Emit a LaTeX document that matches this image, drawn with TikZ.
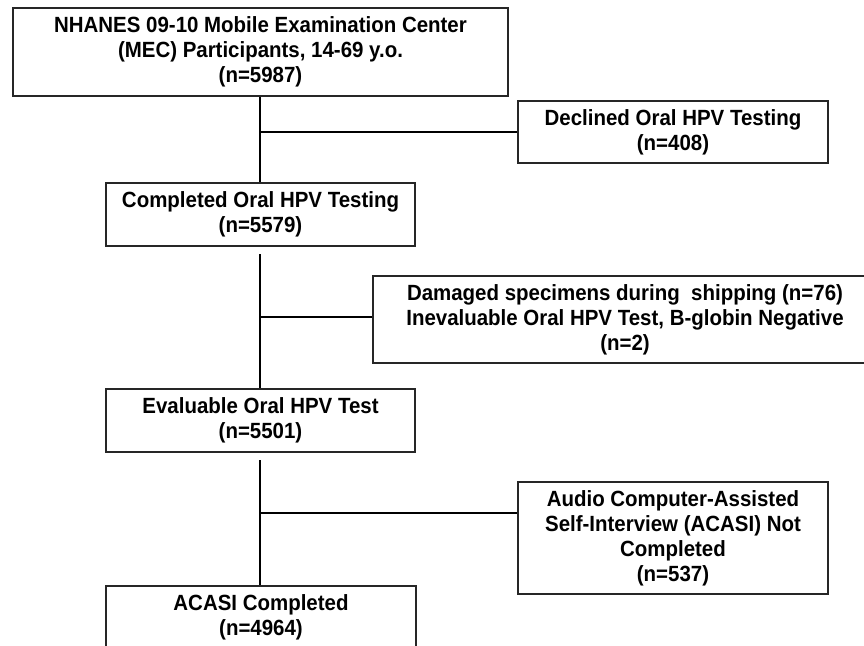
\documentclass[tikz,border=0pt]{standalone}
\usepackage{fontspec}
\setmainfont[FakeStretch=0.93]{Liberation Sans}
\begin{document}
\begin{tikzpicture}[x=1pt,y=-1pt,
  box/.style={draw=black!85, line width=1.3pt, fill=white, inner sep=0pt, align=center,
    font=\bfseries\fontsize{22}{25}\selectfont},
  conn/.style={draw=black, line width=2.4pt}]
\useasboundingbox (0,0) rectangle (864,645);
\clip (0,0) rectangle (864,645);
\fill[white] (0,0) rectangle (864,645);
\node[box, minimum width=495, minimum height=88] (mec) at (260.5,52)
  {NHANES 09-10 Mobile Examination Center\\(MEC) Participants, 14-69 y.o.\\(n=5987)};
\node[box, minimum width=310, minimum height=62] (decl) at (673,132)
  {Declined Oral HPV Testing\\(n=408)};
\node[box, minimum width=309, minimum height=63] (comp) at (260.5,214.5)
  {Completed Oral HPV Testing\\(n=5579)};
\node[box, minimum width=504, minimum height=87] (dam) at (625,319.5)
  {Damaged specimens during\ \ shipping (n=76)\\Inevaluable Oral HPV Test, B-globin Negative\\(n=2)};
\node[box, minimum width=309, minimum height=63] (eval) at (260.5,420.5)
  {Evaluable Oral HPV Test\\(n=5501)};
\node[box, minimum width=310, minimum height=112] (audio) at (673,538)
  {Audio Computer-Assisted\\Self-Interview (ACASI) Not\\Completed\\(n=537)};
\node[box, minimum width=310, minimum height=63] (acasi) at (261,617.5)
  {ACASI Completed\\(n=4964)};
% connectors
\coordinate (j1) at (260,132);
\coordinate (s2) at (260,254);
\coordinate (j2) at (260,317);
\coordinate (s3) at (260,460);
\coordinate (j3) at (260,513);
\draw[conn] (mec.south -| j1) -- (comp.north -| j1);
\draw[conn] (j1) -- (decl.west |- j1);
\draw[conn] (s2) -- (eval.north -| s2);
\draw[conn] (j2) -- (dam.west |- j2);
\draw[conn] (s3) -- (acasi.north -| s3);
\draw[conn] (j3) -- (audio.west |- j3);
\end{tikzpicture}
\end{document}
